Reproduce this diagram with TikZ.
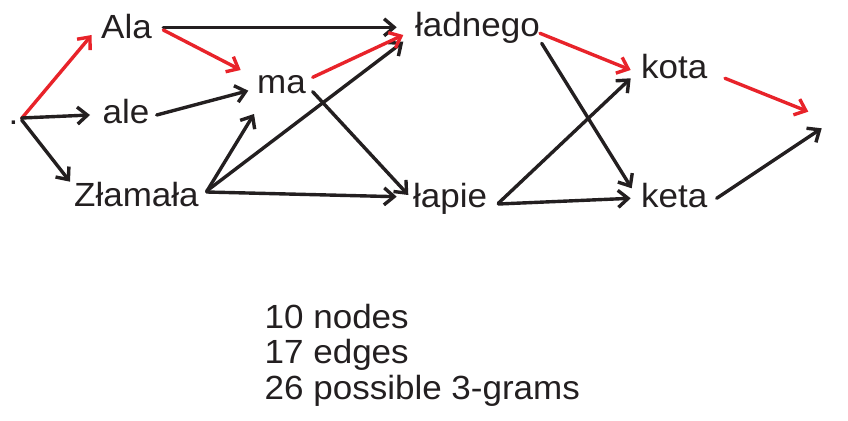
\documentclass[tikz,border=0pt]{standalone}
\usepackage{fontspec}
\setmainfont{Liberation Sans}[FakeStretch=1.045]
\usetikzlibrary{arrows.meta,calc}
\definecolor{ink}{HTML}{231F20}
\definecolor{hl}{HTML}{E8232A}
\begin{document}
\begin{tikzpicture}[x=1pt,y=-1pt,
  word/.style={anchor=base west,inner sep=0pt,text=ink,font=\fontsize{33.5}{40}\selectfont},
  blk/.style={draw=ink,line width=3.4pt,line cap=round,line join=round,-{Straight Barb[length=10pt,width=17pt]}},
  redarr/.style={blk,draw=hl}]
\useasboundingbox (0,0) rectangle (848,420);
\node[word] (dot) at (8.5,124) {.};
\node[word] (Ala) at (101,39) {Ala};
\node[word] (ale) at (102.5,123) {ale};
\node[word] (Zl) at (74,206) {Złamała};
\node[word] (ma) at (257,93) {ma};
\node[word] (lad) at (415,37) {ładnego};
\node[word] (lap) at (413,207) {łapie};
\node[word] (kota) at (641,78) {kota};
\node[word] (keta) at (641,207) {keta};
\coordinate (end) at (815,120);
\node[word] (s1) at (264.5,328) {10 nodes};
\node[word] (s2) at (264.5,363.5) {17 edges};
\node[word] (s3) at (264.5,399) {26 possible 3-grams};
% edges
\draw[redarr] ($(dot.base west)+(13.2,-5.7)$) -- ($(Ala.base west)+(-9.3,-4)$);
\draw[blk] ($(dot.base west)+(13.2,-6)$) -- ($(ale.base west)+(-12.5,-8)$);
\draw[blk] ($(dot.base west)+(13.2,-4)$) -- ($(Zl.base west)+(-4,-24.3)$);
\draw[blk] ($(Ala.base west)+(62.3,-11.7)$) -- ($(lad.base west)+(-18.3,-9.7)$);
\draw[redarr] ($(Ala.base west)+(62.3,-9)$) -- ($(ma.base west)+(-16.3,-23)$);
\draw[blk] ($(ale.base west)+(54.2,-8)$) -- ($(ma.base west)+(-8.7,-2.3)$);
\draw[blk] ($(Zl.base west)+(132.7,-14.5)$) -- ($(ma.base west)+(-3,21)$);
\draw[blk] ($(Zl.base west)+(132.7,-15)$) -- ($(lad.base west)+(-11.7,4.7)$);
\draw[blk] ($(Zl.base west)+(132.7,-14)$) -- ($(lap.base west)+(-16.3,-10.3)$);
\draw[redarr] ($(ma.base west)+(55.7,-15.7)$) -- ($(lad.base west)+(-11.7,-2)$);
\draw[blk] ($(ma.base west)+(55.7,-1.3)$) -- ($(lap.base west)+(-4.7,-12)$);
\draw[redarr] ($(lad.base west)+(125,-3.7)$) -- ($(kota.base west)+(-10.3,-8)$);
\draw[blk] ($(lad.base west)+(126.7,6.3)$) -- ($(keta.base west)+(-9.3,-18.7)$);
\draw[blk] ($(lap.base west)+(85.3,-3.7)$) -- ($(kota.base west)+(-10.3,0.3)$);
\draw[blk] ($(lap.base west)+(85.3,-3)$) -- ($(keta.base west)+(-10.3,-8.7)$);
\draw[redarr] ($(kota.base west)+(84,0.3)$) -- ($(end)+(-6.7,-8.3)$);
\draw[blk] ($(keta.base west)+(75.7,-8.7)$) -- ($(end)+(6.7,8.3)$);
\end{tikzpicture}
\end{document}
